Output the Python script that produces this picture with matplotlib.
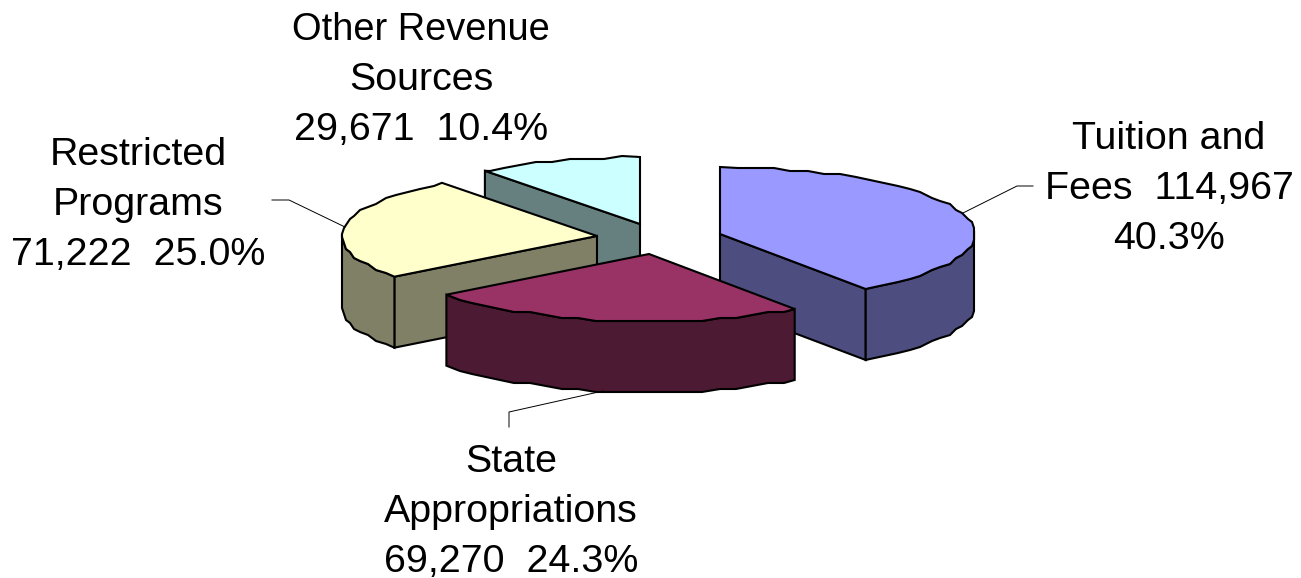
import matplotlib
matplotlib.use('Agg')
import matplotlib.pyplot as plt
import numpy as np

plt.rcParams['font.family'] = ['Liberation Sans', 'DejaVu Sans']

# data
names = ['Tuition and Fees', 'State Appropriations', 'Restricted Programs', 'Other Revenue Sources']
values = [114967, 69270, 71222, 29671]
label_lines = [['Tuition and', 'Fees  {v}', '{p}'],
               ['State', 'Appropriations', '{v}  {p}'],
               ['Restricted', 'Programs', '{v}  {p}'],
               ['Other Revenue', 'Sources', '{v}  {p}']]

# styles, figure pixel coords
apex = [(720, 234), (649, 254), (597, 236), (640, 224)]
top_colors = ['#9999FF', '#993366', '#FFFFCC', '#CCFFFF']
side_colors = ['#4D4D80', '#4D1A33', '#808066', '#668080']
label_x = [1169, 511, 138, 421]
label_y = [149, 472, 165, 40]
leaders = [[(963, 213), (1017, 186), (1033, 186)],
           [(603, 391), (509, 412), (509, 427)],
           [(345, 227), (289, 200), (272, 200)]]
rx, ry, depth = 255, 67, 71
line_gap = 50
edge = 1.5

fig = plt.figure(figsize=(13.01, 5.78), dpi=100)
ax = fig.add_axes([0, 0, 1, 1])
ax.set_xlim(0, 1301)
ax.set_ylim(578, 0)
ax.axis('off')

total = float(sum(values))
edges = np.concatenate([[0], np.cumsum(values) / total * 360])


def rim(center, t0, t1):
    # angle clockwise from the top, snapped to a coarse grid like the original
    grid = np.arange(0, 364, 4.0)
    t = np.concatenate([[t0], grid[(grid > t0 + 1) & (grid < t1 - 1)], [t1]])
    r = np.radians(t)
    x = center[0] + rx * np.sin(r)
    y = center[1] - ry * np.cos(r)
    x[1:-1] = np.round(x[1:-1] / 2) * 2
    y[1:-1] = np.round(y[1:-1] / 3) * 3
    return t, np.column_stack([x, y])


def poly(pts, color):
    ax.fill(pts[:, 0], pts[:, 1], facecolor=color, edgecolor='black',
            linewidth=edge, joinstyle='miter')


def slice3d(i):
    c = np.array(apex[i], dtype=float)
    t0, t1 = edges[i], edges[i + 1]
    t, top = rim(c, t0, t1)
    drop = np.array([0, depth])

    # cut faces, only those turned to the viewer
    if t0 >= 180:
        poly(np.array([c, top[0], top[0] + drop, c + drop]), side_colors[i])
    if t1 <= 180:
        poly(np.array([c, top[-1], top[-1] + drop, c + drop]), side_colors[i])

    # outer wall, only the front half shows
    front = top[(t >= 88) & (t <= 272)]
    if len(front) > 1:
        poly(np.vstack([front, (front + drop)[::-1]]), side_colors[i])

    poly(np.vstack([c, top]), top_colors[i])


# back to front
for i in [3, 2, 0, 1]:
    slice3d(i)

for pts in leaders:
    pts = np.array(pts)
    ax.plot(pts[:, 0], pts[:, 1], color='black', lw=0.7)

for i in range(len(values)):
    v = f'{values[i]:,}'
    p = f'{values[i] / total * 100:.1f}%'
    for j, line in enumerate(label_lines[i]):
        size = 27.4 if line == 'Other Revenue' else 28.4
        ax.text(label_x[i], label_y[i] + j * line_gap, line.format(v=v, p=p),
                ha='center', va='baseline', fontsize=size, color='black')

plt.savefig('out.png', dpi=100)
